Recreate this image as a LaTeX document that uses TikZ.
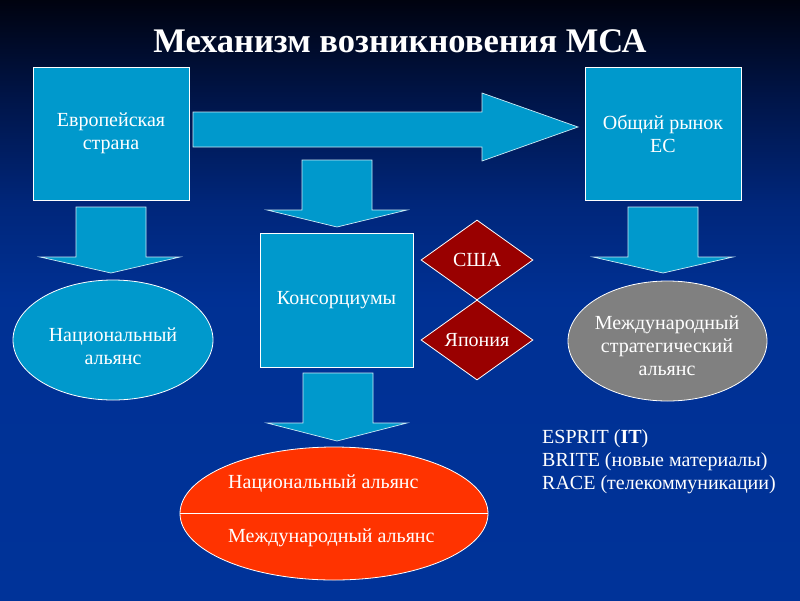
\documentclass[tikz,border=0pt]{standalone}
\usepackage{fontspec}
\setmainfont{Liberation Serif}
\usetikzlibrary{shapes.geometric}
\definecolor{boxc}{RGB}{0,153,204}
\definecolor{redc}{RGB}{255,51,0}
\definecolor{darkred}{RGB}{153,0,0}
\definecolor{grayc}{RGB}{128,128,128}
\pgfdeclareverticalshading{bgshade}{100bp}{rgb(0bp)=(0,0.2,0.6); rgb(25bp)=(0,0.2,0.6); rgb(50bp)=(0,0.19,0.58); rgb(58bp)=(0,0.15,0.48); rgb(67bp)=(0,0.08,0.28); rgb(75bp)=(0,0.01,0.06); rgb(100bp)=(0,0.01,0.06)}
\tikzset{
  body/.style={text=white, font=\fontsize{20}{23}\selectfont},
  box/.style={draw=white, line width=0.8pt, fill=boxc, inner sep=0pt, body, align=center},
  oval/.style={ellipse, draw=white, line width=0.8pt, inner sep=0pt},
  dia/.style={diamond, draw=white, line width=0.8pt, fill=darkred, inner sep=0pt, minimum width=112pt, minimum height=80pt, body},
  blockarrow/.style={fill=boxc, draw=white!80!boxc, line width=0.7pt, line join=miter},
  txt/.style={body, align=center, inner sep=0pt},
}
\begin{document}
\begin{tikzpicture}[x=1pt,y=-1pt]
\useasboundingbox (0,0) rectangle (800,600);
\fill[shading=bgshade] (0,0) rectangle (800,600);

% title
\node[text=white, font=\fontsize{34.5}{38}\selectfont\bfseries, inner sep=0pt] (title) at (400,41) {Механизм возникновения МСА};

% boxes
\node[box, minimum width=156pt, minimum height=133pt] (eu) at (111,133.5) {Европейская\\страна};
\node[box, minimum width=156pt, minimum height=133pt] (ec) at (663,133.5) {Общий рынок\\ЕС};
\node[box, minimum width=153pt, minimum height=134pt] (cons) at (336.5,300) {Консорциумы};

% big right arrow
\draw[blockarrow] (193,112) -- (482,112) -- (482,93) -- (578,127) -- (482,161) -- (482,147) -- (193,147) -- cycle;

% down arrows
\draw[blockarrow] (76,207) -- (146,207) -- (146,257) -- (180,257) -- (111,273) -- (40,257) -- (76,257) -- cycle;
\draw[blockarrow] (302,160) -- (372,160) -- (372,210) -- (407,210) -- (337,227) -- (267,210) -- (302,210) -- cycle;
\draw[blockarrow] (303,373) -- (373,373) -- (373,423) -- (407,423) -- (337,441) -- (267,423) -- (303,423) -- cycle;
\draw[blockarrow] (628,207) -- (698,207) -- (698,257) -- (733,257) -- (663,273) -- (593,257) -- (628,257) -- cycle;

% ellipses
\node[oval, fill=boxc, minimum width=200pt, minimum height=120pt] (nat) at (113,340) {};
\node[txt] (natt) at (113,346) {Национальный\\альянс};
\node[oval, fill=grayc, minimum width=199pt, minimum height=120pt] (intl) at (667.5,341) {};
\node[txt] (intlt) at (667,346) {Международный\\стратегический\\альянс};
\node[oval, fill=redc, minimum width=308pt, minimum height=133pt] (red) at (334,513.5) {};
\draw[white, line width=0.8pt] (red.west) -- (red.east);
\node[body, anchor=base west, inner sep=0pt] (rn) at (228,488) {Национальный альянс};
\node[body, anchor=base west, inner sep=0pt] (ri) at (228,542) {Международный альянс};

% diamonds
\node[dia] (usa) at (477,260) {США};
\node[dia] (jp) at (477,340) {Япония};

% programme list
\node[body, anchor=base west, inner sep=0pt] (l1) at (542,443) {ESPRIT (\textbf{IT})};
\node[body, anchor=base west, inner sep=0pt] (l2) at (542,466) {BRITE (новые материалы)};
\node[body, anchor=base west, inner sep=0pt] (l3) at (542,489) {RACE (телекоммуникации)};
\end{tikzpicture}
\end{document}
